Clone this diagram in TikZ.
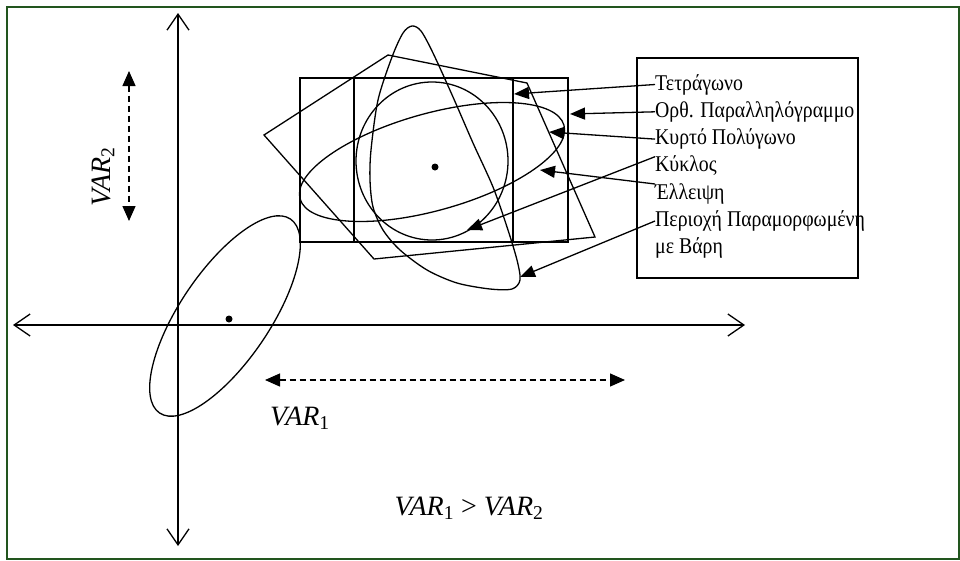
\documentclass[tikz,border=0pt]{standalone}
\usepackage{fontspec}
\setmainfont{Liberation Serif}
\usetikzlibrary{arrows.meta}
\definecolor{framegreen}{RGB}{34,85,30}
\newcommand
    {\varlab}[1]
    {%
        \textit{VAR}\textsubscript{#1}%
    }

\begin{document}
\begin{tikzpicture}[x=1pt,y=-1pt,
        shapeline/.style={line width=1.3pt},
        axis/.style={line width=1.3pt,{Straight Barb[length=16pt,width=22pt]}-{Straight Barb[length=16pt,width=22pt]}},
        spread/.style={line width=1.3pt,dash pattern=on 6pt off 4pt,{Triangle[length=15pt,width=13pt]}-{Triangle[length=15pt,width=13pt]}},
        pointer/.style={line width=1.3pt,-{Triangle[length=15pt,width=12pt]}},
        lbl/.style={anchor=base west,inner sep=0pt,text height=15pt,text depth=4pt,xscale=0.88,font=\fontsize{22.5}{27}\selectfont},
        varlbl/.style={inner sep=0pt,font=\fontsize{28}{32}\selectfont}]
        \useasboundingbox (0,0) rectangle (960,560);

        % 1. Frame
        \draw[framegreen,line width=2pt] (7,7) rectangle (959,559);

        % 2. Axes
        \coordinate (ytop) at (178,13);
        \coordinate (ybot) at (178,546);
        \coordinate (xleft) at (13,325);
        \coordinate (xright) at (745,325);
        \draw[axis] (ybot) -- (ytop);
        \draw[axis] (xleft) -- (xright);

        % 3. Spread arrows and their labels
        \coordinate (v2top) at (129,71);
        \coordinate (v2bot) at (129,221);
        \draw[spread] (v2top) -- (v2bot);
        \node (var2) at (103,177) [varlbl,rotate=90] {\varlab{2}};

        \coordinate (v1left) at (265,380);
        \coordinate (v1right) at (625,380);
        \draw[spread] (v1left) -- (v1right);
        \node (var1) at (300,418) [varlbl] {\varlab{1}};

        \node (cmp) at (469,508) [varlbl] {\varlab{1} > \varlab{2}};

        % 4. Small tilted ellipse near the origin
        \draw[shapeline,rotate around={56:(225,316)}] (225,316) ellipse [x radius=117pt,y radius=45pt];
        \fill (229,319) circle (3.5pt);

        % 5. Regions round the big centre
        \draw[shapeline] (300,78) rectangle (568,242);
        \draw[shapeline] (354,78) rectangle (513,242);
        \draw[shapeline] (432,161) ellipse [x radius=76pt,y radius=79pt];
        \draw[shapeline,rotate around={15.6:(432,162)}] (432,162) ellipse [x radius=137pt,y radius=48.5pt];
        \draw[shapeline] (388,55) -- (527,83) -- (595,237) -- (374,259) -- (264,135) -- cycle;
        \draw[shapeline] plot[smooth cycle] coordinates {(412,26) (421,31) (433,53) (453,97) (473,143)
            (493,187) (507,227) (517,260) (520,280) (512,289) (490,289) (457,283) (427,270)
            (400,250) (383,230) (373,207) (370,180) (371,150) (378,100) (392,57) (403,33)};
        \fill (435,167) circle (3.5pt);

        % 6. Legend box
        \draw[shapeline] (637,58) rectangle (858,278);
        \node (lsq) at (655,90) [lbl] {Τετράγωνο};
        \node (lrect) at (655,117.3) [lbl] {Ορθ. Παραλληλόγραμμο};
        \node (lpoly) at (655,144.6) [lbl] {Κυρτό Πολύγωνο};
        \node (lcirc) at (655,171.9) [lbl] {Κύκλος};
        \node (lell) at (655,199.2) [lbl] {Έλλειψη};
        \node (lreg) at (655,226.5) [lbl] {Περιοχή Παραμορφωμένη};
        \node (lreg2) at (655,253.8) [lbl] {με Βάρη};

        % 7. Pointers from the legend
        \coordinate (tsq) at (514,94);
        \coordinate (trect) at (570,114);
        \coordinate (tpoly) at (549,132);
        \coordinate (tcirc) at (467,230);
        \coordinate (tell) at (540,170);
        \coordinate (treg) at (520,277);
        \draw[pointer] (lsq.west) -- (tsq);
        \draw[pointer] (lrect.west) -- (trect);
        \draw[pointer] (lpoly.west) -- (tpoly);
        \draw[pointer] (lcirc.north west) -- (tcirc);
        \draw[pointer] (lell.north west) -- (tell);
        \draw[pointer] (lreg.west) -- (treg);

    \end{tikzpicture}
\end{document}
